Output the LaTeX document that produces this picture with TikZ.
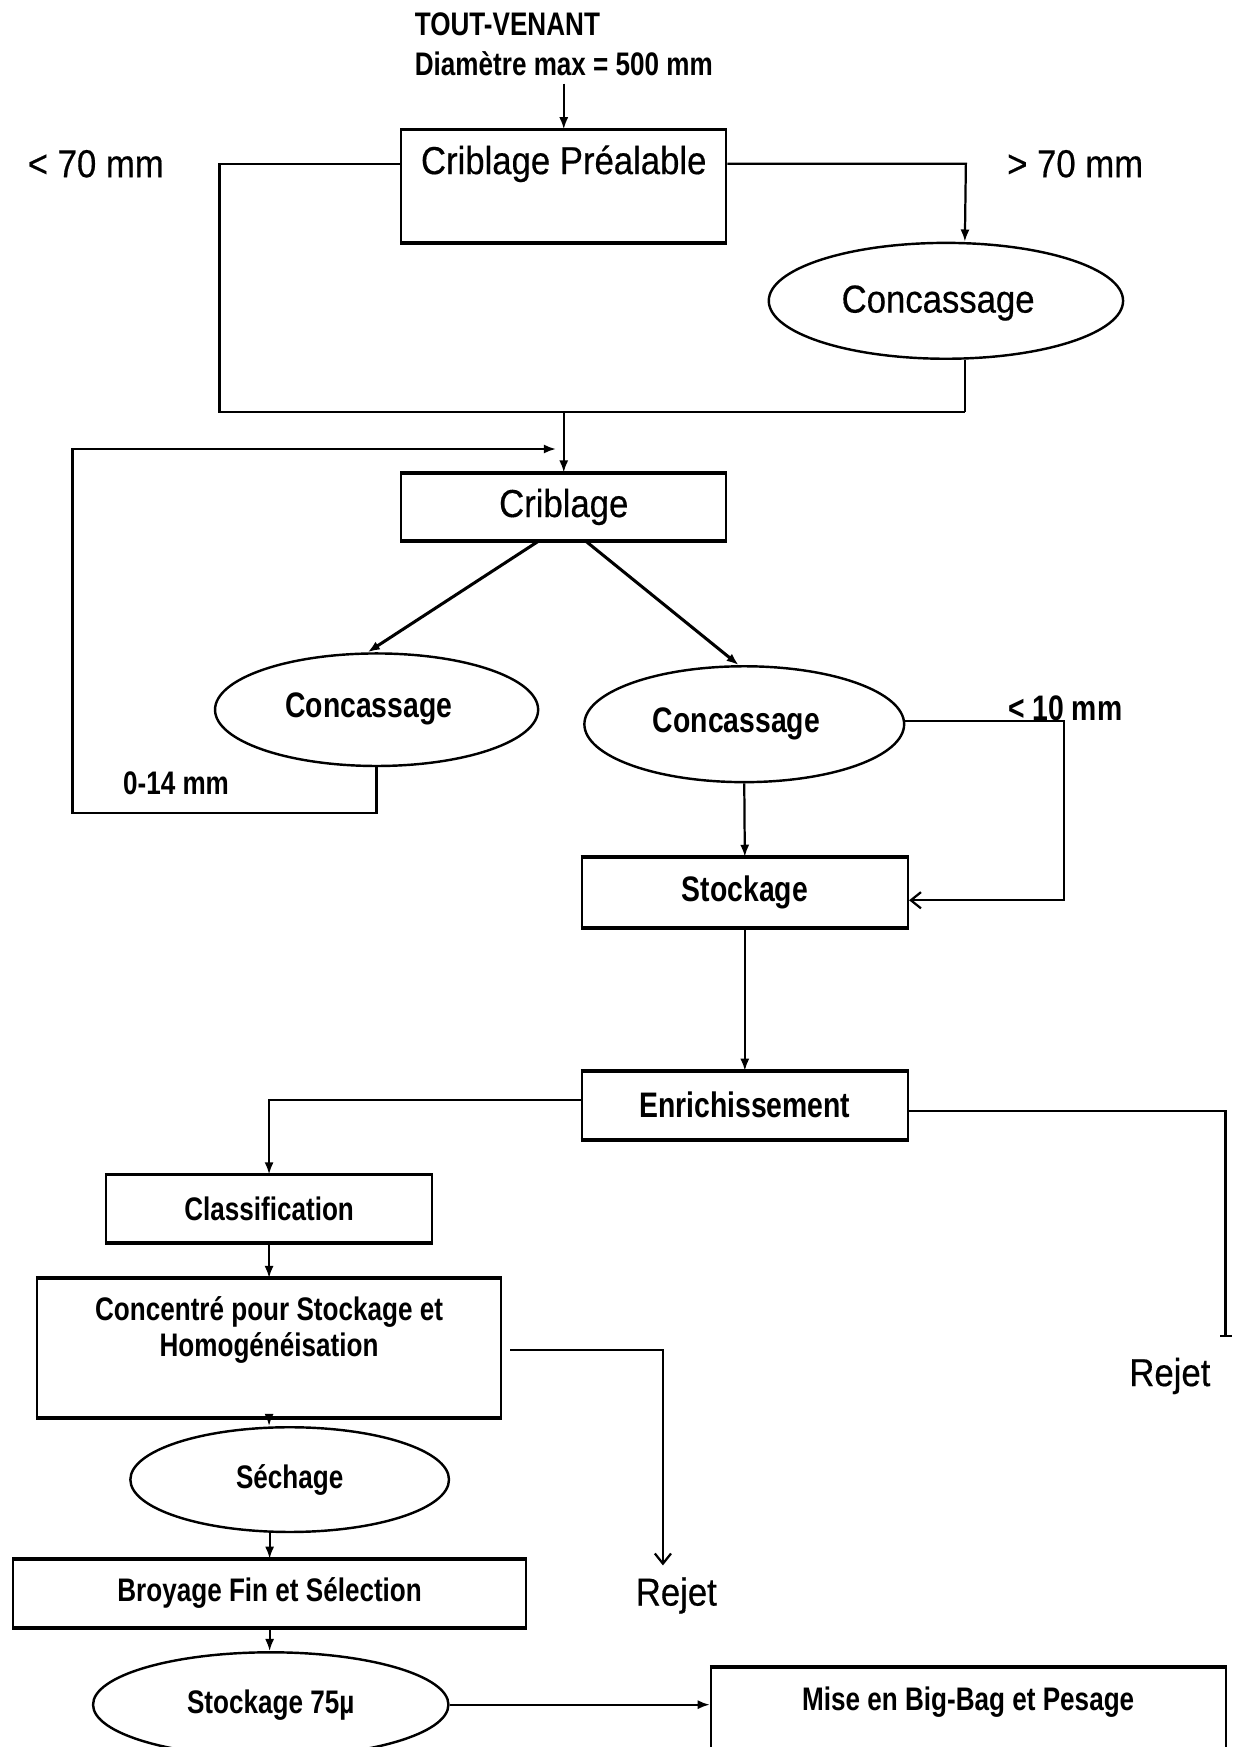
\documentclass[tikz,border=0pt]{standalone}
\usepackage{fontspec}
\setmainfont{Liberation Sans}
\newfontfamily\rgfont[FakeStretch=0.89,FakeBold=0.4]{Liberation Sans}
\newfontfamily\bdfont[FakeStretch=0.80]{Liberation Sans Bold}
\usetikzlibrary{shapes.geometric,arrows.meta,calc}

\newcommand\U{0.55pt}

\begin{document}
\begin{tikzpicture}[x=0.55pt,y=-0.55pt,
  big/.style={font=\rgfont\fontsize{19.25}{22}\selectfont, inner sep=0pt},
  mid/.style={font=\bdfont\fontsize{17.5}{20}\selectfont, inner sep=0pt},
  sml/.style={font=\bdfont\fontsize{16.1}{17.6}\selectfont, inner sep=0pt},
  box/.style={draw, line width=1pt, rectangle, inner sep=0pt},
  oval/.style={draw, line width=1.2pt, ellipse, inner sep=0pt},
  link/.style={line width=1.1pt},
  flow/.style={link, -{Latex[length=6pt,width=4.5pt]}},
  barb/.style={link, -{Straight Barb[length=5pt,width=8pt]}},
]
\path[use as bounding box, fill=white] (0,0) rectangle (1108,1568);
\clip (0,0) rectangle (1108,1568);

% feed
\node[sml, anchor=west] (tv1) at (372,22) {TOUT-VENANT};
\node[sml, anchor=west] (tv2) at (372,57) {Diamètre max = 500 mm};
\coordinate (tvo) at (506,75);

% pre-screening
\node[box, minimum width=292*\U, minimum height=100*\U] (cp) at (506,167) {};
\node[big] (cpt) at (506,147) {Criblage Préalable};
\draw[flow] (tvo) -- (cp.north);
\node[big] (lt70) at (86,147) {< 70 mm};
\node[big] (gt70) at (965,147) {> 70 mm};

\node[oval, minimum width=318*\U, minimum height=104*\U] (c1) at (849,270) {};
\node[big] (c1t) at (842,272) {Concassage};

\coordinate (jl) at (197,370);
\coordinate (jr) at (866,370);
\coordinate (jn) at (506,370);
\draw[link] (cpt -| cp.west) -| (jl) -- (jr);
\draw[flow] (cpt -| cp.east) -- ++(214,0) -- ($(c1.north)+(17,0)$);
\draw[link] ($(c1.south)+(17,0)$) -- (jr);

% screening
\node[box, big, minimum width=292*\U, minimum height=60*\U] (cr) at (506,455) {Criblage};
\draw[flow] (jn) -- (cr.north);

\node[oval, minimum width=290*\U, minimum height=101*\U] (c2) at (338,637) {};
\node[mid] (c2t) at (331,636) {Concassage};
\node[oval, minimum width=287*\U, minimum height=104*\U] (c3) at (668,650) {};
\node[mid] (c3t) at (661,650) {Concassage};
\draw[flow, line width=1.5pt] ($(cr.south)+(-23,0)$) -- ($(c2.north)+(-8,0)$);
\draw[flow, line width=1.5pt] ($(cr.south)+(20,0)$) -- ($(c3.north)+(-5,0)$);

% recirculation 0-14 mm
\coordinate (fbb) at (65,730);
\coordinate (fbt) at (65,403);
\coordinate (fbe) at (499,403);
\draw[flow] (c2.south) |- (fbb) -- (fbt) -- (fbe);
\node[sml] (l014) at (158,703) {0-14 mm};

% storage
\node[box, mid, minimum width=293*\U, minimum height=62*\U] (st) at (668.5,801) {Stockage};
\draw[flow] (c3.south) -- (st.north);
\node[mid] (l10) at (956,636) {< 10 mm};
\coordinate (r10) at (955,647);
\coordinate (r10b) at (955,808);
\draw[barb] ($(c3.east)+(0,-3)$) -- (r10) -- (r10b) -- (st.east |- r10b);

% enrichment
\node[box, mid, minimum width=293*\U, minimum height=60*\U] (en) at (668.5,992) {Enrichissement};
\draw[flow] (st.south) -- (en.north);

\node[box, sml, minimum width=293*\U, minimum height=60*\U] (cl) at (241.5,1085) {Classification};
\draw[flow] ($(en.west)+(0,-5)$) -| (cl.north);

\coordinate (rj1) at (1100,1200);
\draw[link, -{Bar[width=6pt]}] ($(en.east)+(0,5)$) -| (rj1);
\node[big] (rej1) at (1050,1235) {Rejet};

% concentrate
\node[box, minimum width=417*\U, minimum height=124*\U] (cs) at (241.5,1210) {};
\node[sml, align=center] (cst) at (241.5,1194) {Concentré pour Stockage et\\Homogénéisation};
\draw[flow] (cl.south) -- (cs.north);

\coordinate (rj2) at (595,1405);
\draw[barb] ($(cs.east)+(7,2)$) -| (rj2);
\node[big] (rej2) at (607,1432) {Rejet};

% drying, grinding, bagging
\node[oval, sml, minimum width=286*\U, minimum height=94*\U] (se) at (260,1328) {Séchage};
\draw[flow] (cs.south) -- (cs.south |- se.north);

\node[box, sml, minimum width=460*\U, minimum height=60*\U] (br) at (242,1430) {Broyage Fin et Sélection};
\draw[flow] (se.south -| br.north) -- (br.north);

\node[oval, sml, minimum width=319*\U, minimum height=94*\U] (s75) at (243,1530) {Stockage 75µ};
\draw[flow] (br.south) -- (br.south |- s75.north);

\node[box, minimum width=462*\U, minimum height=110*\U] (mb) at (869,1552) {};
\node[sml] (mbt) at (869,1528) {Mise en Big-Bag et Pesage};
\draw[flow] (s75.east) -- (s75.east -| mb.west);

% heavier horizontal edges of the boxes
\foreach \b in {cp,cr,st,en,cl,cs,br,mb}
  \draw[line width=1.8pt] (\b.north west) -- (\b.north east) (\b.south west) -- (\b.south east);
\end{tikzpicture}
\end{document}
